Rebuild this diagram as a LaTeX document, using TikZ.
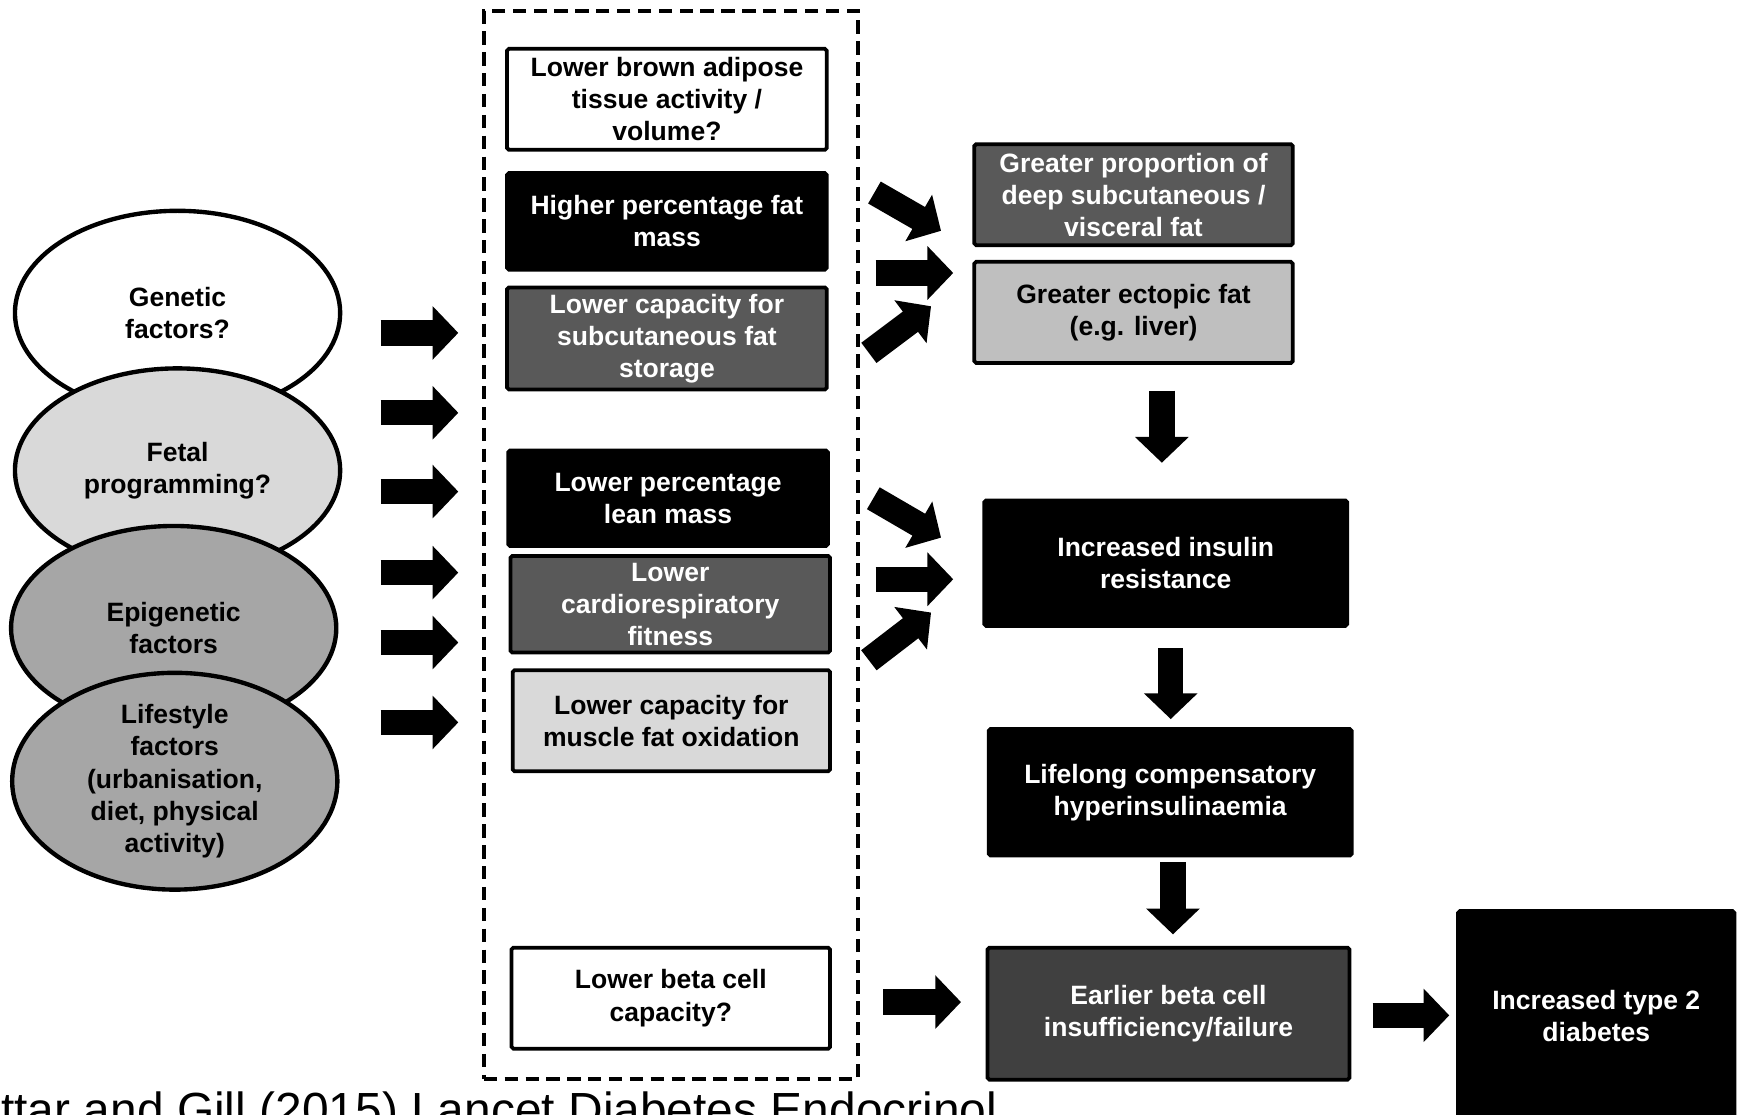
\documentclass[tikz,border=0pt]{standalone}
\usepackage{fontspec}
\setmainfont{Liberation Sans}
\usetikzlibrary{arrows.meta,shapes.geometric}
\definecolor{gA}{HTML}{595959}
\definecolor{gB}{HTML}{D9D9D9}
\definecolor{gC}{HTML}{BFBFBF}
\definecolor{gD}{HTML}{404040}
\definecolor{gE}{HTML}{A6A6A6}
\tikzset{
  bx/.style={draw=black, line width=2.4pt, rounded corners=1.2pt, inner sep=0pt, outer sep=0pt,
    align=center, font=\bfseries\fontsize{17}{20.6}\selectfont},
  wt/.style={bx, fill=white, text=black},
  bk/.style={bx, fill=black, text=white},
  dk/.style={bx, fill=gA, text=white},
  lt/.style={bx, fill=gB, text=black},
  lt2/.style={bx, fill=gC, text=black},
  dk2/.style={bx, fill=gD, text=white},
  ell/.style={ellipse, draw=black, line width=2.8pt, inner sep=0pt, outer sep=0pt,
    minimum width=7.325cm, minimum height=4.6cm, align=center,
    font=\bfseries\fontsize{17}{20.6}\selectfont, text=black},
  bigarr/.style={line width=0.57cm, line cap=butt,
    -{Triangle[length=0.58cm, width=1.175cm]}},
  dashbox/.style={draw=black, line width=2.7pt, dash pattern=on 0.3cm off 0.17cm}
}
\begin{document}
\begin{tikzpicture}[x=0.025cm, y=-0.025cm]
\useasboundingbox (0,0) rectangle (1568,1004);
\clip (0,0) rectangle (1568,1004);
% dashed container
\node[dashbox, minimum width=8.425cm, minimum height=24.05cm, inner sep=0pt] (cont) at (604.5,491) {};
% ellipses
\node[ell, fill=white] (gen) at (160,282) {Genetic\\factors?};
\node[ell, fill=gB] (fet) at (160,424) {Fetal\\programming?};
\node[ell, fill=gE] (epi) at (156.5,566) {Epigenetic\\factors};
\node[ell, fill=gE] (life) at (157.5,704) {Lifestyle\\factors\\(urbanisation,\\diet, physical\\activity)};
% middle boxes
\node[wt, minimum width=7.2cm, minimum height=2.275cm] (b1) at (601,89.5) {Lower brown adipose\\tissue activity /\\volume?};
\node[bk, minimum width=7.2cm, minimum height=2.175cm] (b2) at (601,199.5) {Higher percentage fat\\mass};
\node[dk, minimum width=7.2cm, minimum height=2.3cm] (b3) at (601,305) {Lower capacity for\\subcutaneous fat\\storage};
\node[bk, minimum width=7.2cm, minimum height=2.15cm] (b4) at (602,449) {Lower percentage\\lean mass};
\node[dk, minimum width=7.2cm, minimum height=2.175cm] (b5) at (604,544.5) {Lower\\cardiorespiratory\\fitness};
\node[lt, minimum width=7.15cm, minimum height=2.275cm] (b6) at (605,649.5) {Lower capacity for\\muscle fat oxidation};
\node[wt, minimum width=7.175cm, minimum height=2.275cm] (b7) at (604.5,899.5) {Lower beta cell\\capacity?};
% right boxes
\node[dk, minimum width=7.175cm, minimum height=2.275cm] (r1) at (1021.5,175.5) {Greater proportion of\\deep subcutaneous /\\visceral fat};
\node[lt2, minimum width=7.175cm, minimum height=2.275cm] (r2) at (1021.5,281.5) {Greater ectopic fat\\(e.g. liver)};
\node[bk, minimum width=8.175cm, minimum height=2.825cm] (r3) at (1050.5,507.5) {Increased insulin\\resistance};
\node[bk, minimum width=8.175cm, minimum height=2.85cm] (r4) at (1054.5,714) {Lifelong compensatory\\hyperinsulinaemia};
\node[dk2, minimum width=8.15cm, minimum height=2.975cm] (r5) at (1053,913.5) {Earlier beta cell\\insufficiency/failure};
\node[bk, minimum width=6.225cm, minimum height=4.725cm] (r6) at (1438.5,915.5) {Increased type 2\\diabetes};
% arrow end points
\foreach \i/\yy in {1/300,2/372,3/443,4/516,5/579,6/651}{
  \coordinate (ls\i) at (343,\yy);
  \coordinate (le\i) at (413,\yy);
}
\coordinate (f1s) at (788,173.5); \coordinate (f1e) at (848,208);
\coordinate (f2s) at (789,246);   \coordinate (f2e) at (859,246);
\coordinate (f3s) at (783,318);   \coordinate (f3e) at (839,276);
\coordinate (g1s) at (787,449);   \coordinate (g1e) at (848,484.5);
\coordinate (g2s) at (789,522);   \coordinate (g2e) at (859,522);
\coordinate (g3s) at (783,595);   \coordinate (g3e) at (839,552);
\coordinate (d1s) at (1047,352);  \coordinate (d1e) at (1047,417);
\coordinate (d2s) at (1055,584);  \coordinate (d2e) at (1055,648);
\coordinate (d3s) at (1057,777);  \coordinate (d3e) at (1057,842);
\coordinate (h1s) at (796,903);   \coordinate (h1e) at (866,903);
\coordinate (h2s) at (1237,915);  \coordinate (h2e) at (1306,915);
% arrows
\foreach \i in {1,...,6}{ \draw[bigarr] (ls\i) -- (le\i); }
\draw[bigarr] (f1s) -- (f1e);
\draw[bigarr] (f2s) -- (f2e);
\draw[bigarr] (f3s) -- (f3e);
\draw[bigarr] (g1s) -- (g1e);
\draw[bigarr] (g2s) -- (g2e);
\draw[bigarr] (g3s) -- (g3e);
\draw[bigarr] (d1s) -- (d1e);
\draw[bigarr] (d2s) -- (d2e);
\draw[bigarr] (d3s) -- (d3e);
\draw[bigarr] (h1s) -- (h1e);
\draw[bigarr] (h2s) -- (h2e);
% citation
\node[anchor=base east, inner sep=0pt, font=\fontsize{30.7}{36}\selectfont] (cite) at (899,1015) {Sattar and Gill (2015) Lancet Diabetes Endocrinol};
\end{tikzpicture}
\end{document}
